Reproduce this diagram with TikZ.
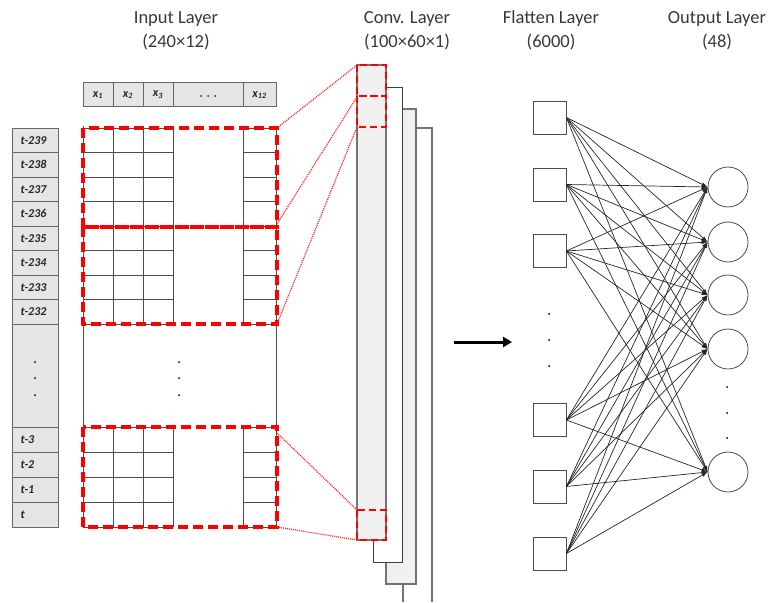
\documentclass[tikz,border=0pt]{standalone}
\usepackage{fontspec}
\setmainfont{Carlito}
\usetikzlibrary{arrows.meta}
\begin{document}
\begin{tikzpicture}[x=1pt,y=-1pt,
  title/.style={font=\fontsize{18.5}{20}\selectfont, text=black!78},
  cellfill/.style={fill=gray!20, draw=black!60, line width=0.8pt},
  gridline/.style={draw=black!70, line width=0.8pt},
  window/.style={draw=red, line width=3.2pt, dash pattern=on 10pt off 5pt},
  link/.style={draw=red!90, line width=1.2pt, dash pattern=on 1pt off 1pt},
  lbl/.style={font=\fontsize{12}{14}\selectfont\bfseries\itshape, text=black!85, inner sep=0pt},
  fmap/.style={draw=black!55, line width=1.1pt},
  unit/.style={draw=black!70, line width=0.8pt, minimum size=33pt, inner sep=0pt},
  neuron/.style={circle, draw=black!70, line width=0.8pt, minimum size=40pt, inner sep=0pt},
  edge/.style={draw=black!85, line width=0.7pt, -{Latex[length=6pt,width=4pt]}},
  dot/.style={fill=black, draw=none}
]
\useasboundingbox (0,0) rectangle (770,602);

% ---- titles ----
\node[title] (tin)  at (176,19) {Input Layer};
\node[title] (tin2) at (176,42) {(240×12)};
\node[title] (tcv)  at (407,19) {Conv. Layer};
\node[title] (tcv2) at (407,42) {(100×60×1)};
\node[title] (tfl)  at (551,19) {Flatten Layer};
\node[title] (tfl2) at (551,42) {(6000)};
\node[title] (tou)  at (717,19) {Output Layer};
\node[title] (tou2) at (717,42) {(48)};

% ---- feature header ----
\draw[cellfill] (83,82) rectangle (276,106);
\foreach \x in {113,143,173,243} \draw[cellfill] (\x,82) -- (\x,106);
\node[lbl] (h1) at (98,95) {x\textsubscript{1}};
\node[lbl] (h2) at (128,95) {x\textsubscript{2}};
\node[lbl] (h3) at (158,95) {x\textsubscript{3}};
\node[lbl] (h12) at (259.5,95) {x\textsubscript{12}};
\foreach \x in {201,208,215} \fill[black!85] (\x,96) circle (1pt);

% ---- time column ----
\draw[cellfill] (12,128) rectangle (58,527);
\foreach \y in {152.5,177,201.5,226,250.5,275,299.5,324,427,452,477,502}
  \draw[cellfill] (12,\y) -- (58,\y);
\foreach \n/\y in {239/140.25,238/164.75,237/189.25,236/213.75,235/238.25,234/262.75,233/287.25,232/311.75}
  \node[lbl, anchor=west] (t\n) at (20.5,\y) {t-\n};
\node[lbl, anchor=west] (t3) at (20.5,439.5) {t-3};
\node[lbl, anchor=west] (t2) at (20.5,464.5) {t-2};
\node[lbl, anchor=west] (t1) at (20.5,489.5) {t-1};
\node[lbl, anchor=west] (t0) at (20.5,514.5) {t};
\foreach \y in {362,378,395} {
  \fill[dot] (35,\y) circle (1pt);
  \fill[dot] (179,\y) circle (1pt);
}

% ---- input grid ----
\draw[gridline] (83,128) -- (83,527);
\draw[gridline] (276,128) -- (276,527);
\foreach \y in {128,152.5,177,201.5,226,250.5,275,299.5,324,427,452,477,502,527} {
  \draw[gridline] (83,\y) -- (173,\y);
  \draw[gridline] (243,\y) -- (276,\y);
}
\foreach \x in {113,143,173,243} {
  \draw[gridline] (\x,128) -- (\x,324);
  \draw[gridline] (\x,427) -- (\x,527);
}

% ---- convolution windows on the input ----
\draw[window] (83,128) rectangle (277,227);
\draw[window] (83,227) rectangle (277,324);
\draw[window] (83,427) rectangle (277,527);
\coordinate (a1) at (277,128);
\coordinate (a2) at (277,224);
\coordinate (a3) at (277,324);
\coordinate (a4) at (277,433);
\coordinate (a5) at (277,527);

% ---- stacked feature maps ----
\draw[fmap] (403,602) -- (403,128) -- (432,128) -- (432,602);
\draw[fmap, fill=gray!12] (386,109) rectangle (416,584);
\draw[fmap, draw=black!75, line width=0.9pt, fill=white] (373,87) rectangle (402,562);
\draw[fmap, fill=gray!12] (357,65) rectangle (386,540);

% ---- windows mapped onto the first feature map ----
\draw[window, line width=2.6pt, dash pattern=on 7pt off 4pt] (357,65) rectangle (386,96);
\draw[window, line width=2.6pt, dash pattern=on 7pt off 4pt] (357,96) rectangle (386,127);
\draw[window, line width=2.6pt, dash pattern=on 7pt off 4pt] (357,510) rectangle (386,540);
\coordinate (b1) at (357,65);
\coordinate (b2) at (357,97);
\coordinate (b3) at (357,127);
\coordinate (b4) at (357,510);
\coordinate (b5) at (357,540);
\foreach \i in {1,...,5} \draw[link] (a\i) -- (b\i);

% ---- transition arrow ----
\coordinate (s0) at (454,342);
\coordinate (s1) at (512,342);
\draw[line width=3pt, -{Triangle[length=9pt,width=10pt]}] (s0) -- (s1);

% ---- flatten layer ----
\node[unit] (f1) at (549.5,117.5) {};
\node[unit] (f2) at (549.5,184.5) {};
\node[unit] (f3) at (549.5,251) {};
\node[unit] (f4) at (549.5,420) {};
\node[unit] (f5) at (549.5,486.5) {};
\node[unit] (f6) at (549.5,553.5) {};
\foreach \y in {314,340,366} \fill[dot] (549,\y) circle (1pt);

% ---- output layer ----
\node[neuron] (o1) at (728,187) {};
\node[neuron] (o2) at (728,242) {};
\node[neuron] (o3) at (728,295) {};
\node[neuron] (o4) at (728,349) {};
\node[neuron] (o5) at (728,472) {};
\foreach \y in {387,413,438} \fill[dot] (727,\y) circle (1pt);

% ---- dense connections ----
\foreach \i in {1,...,6}
  \foreach \j in {1,...,5}
    \draw[edge] (f\i.east) -- (o\j.west);
\end{tikzpicture}
\end{document}
